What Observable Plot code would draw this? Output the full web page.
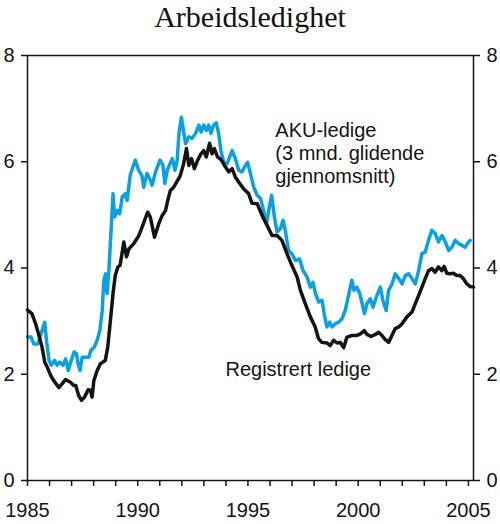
<!DOCTYPE html>
<html>
<head>
<meta charset="utf-8">
<script src="https://cdn.jsdelivr.net/npm/d3@7"></script>
<script src="https://cdn.jsdelivr.net/npm/@observablehq/plot@0.6"></script>
<style>
  body { margin: 0; background: #fff; }
  #title {
    font-family: "Liberation Serif", serif;
    font-size: 30px;
    line-height: 30px;
    height: 40px;
    padding-top: 2px;
    box-sizing: border-box;
    text-align: center;
    color: #111;
  }
  #chart svg { display: block; }
</style>
</head>
<body>
<div id="title">Arbeidsledighet</div>
<div id="chart"></div>
<script>
// AKU-ledige (3 mnd. glidende gjennomsnitt), prosent
const akuYear = [
  1985.00, 1985.16, 1985.29, 1985.47, 1985.59, 1985.71, 1985.78, 1985.86, 1985.98, 1986.08,
  1986.23, 1986.34, 1986.46, 1986.61, 1986.73, 1986.85, 1986.96, 1987.11, 1987.22, 1987.29,
  1987.38, 1987.48, 1987.63, 1987.78, 1987.88, 1988.03, 1988.16, 1988.28, 1988.39, 1988.46,
  1988.54, 1988.61, 1988.69, 1988.79, 1988.88, 1988.95, 1989.07, 1989.18, 1989.30, 1989.45,
  1989.52, 1989.66, 1989.89, 1990.04, 1990.19, 1990.27, 1990.42, 1990.54, 1990.65, 1990.81,
  1991.01, 1991.14, 1991.23, 1991.34, 1991.46, 1991.57, 1991.69, 1991.79, 1991.87, 1991.98,
  1992.07, 1992.17, 1992.32, 1992.47, 1992.62, 1992.77, 1992.87, 1992.99, 1993.11, 1993.22,
  1993.32, 1993.44, 1993.56, 1993.67, 1993.77, 1993.90, 1994.05, 1994.17, 1994.28, 1994.43,
  1994.58, 1994.73, 1994.88, 1994.98, 1995.11, 1995.26, 1995.42, 1995.57, 1995.71, 1995.84,
  1995.97, 1996.07, 1996.20, 1996.32, 1996.47, 1996.59, 1996.69, 1996.84, 1996.99, 1997.15,
  1997.34, 1997.50, 1997.68, 1997.83, 1997.95, 1998.06, 1998.21, 1998.36, 1998.47, 1998.58,
  1998.71, 1998.81, 1998.96, 1999.11, 1999.26, 1999.41, 1999.56, 1999.71, 1999.81, 1999.94,
  2000.07, 2000.18, 2000.28, 2000.40, 2000.55, 2000.67, 2000.82, 2001.00, 2001.12, 2001.27,
  2001.38, 2001.53, 2001.68, 2001.84, 2001.99, 2002.14, 2002.29, 2002.44, 2002.59, 2002.74,
  2002.89, 2003.04, 2003.19, 2003.34, 2003.49, 2003.64, 2003.80, 2003.95, 2004.10, 2004.25,
  2004.40, 2004.55, 2004.70, 2004.85, 2004.95, 2005.08
]
const akuValue = [
  2.70, 2.70, 2.57, 2.57, 2.73, 2.89, 2.98, 2.64, 2.26, 2.17,
  2.26, 2.17, 2.23, 2.17, 2.29, 2.07, 2.23, 2.42, 2.39, 2.20,
  2.07, 2.32, 2.32, 2.32, 2.45, 2.51, 2.64, 2.82, 3.20, 3.77,
  3.89, 3.52, 3.95, 4.71, 5.40, 4.96, 5.08, 5.02, 5.34, 5.40,
  5.27, 5.75, 6.03, 5.84, 5.74, 5.52, 5.78, 5.68, 5.56, 5.81,
  6.03, 5.94, 5.59, 5.84, 5.96, 6.06, 5.84, 6.03, 6.53, 6.84,
  6.59, 6.34, 6.47, 6.44, 6.53, 6.69, 6.56, 6.69, 6.59, 6.69,
  6.53, 6.69, 6.73, 6.53, 6.21, 5.99, 5.96, 6.09, 6.21, 6.06,
  5.84, 5.81, 5.93, 5.99, 5.78, 5.52, 5.37, 5.31, 5.08, 4.83,
  5.15, 5.37, 4.96, 4.68, 4.74, 4.90, 4.71, 4.33, 4.27, 4.14,
  4.17, 3.95, 3.83, 3.64, 3.73, 3.52, 3.36, 3.39, 3.11, 2.89,
  2.98, 2.89, 2.95, 2.98, 3.04, 3.20, 3.48, 3.77, 3.58, 3.64,
  3.52, 3.33, 3.14, 3.33, 3.42, 3.26, 3.45, 3.64, 3.39, 3.20,
  3.58, 3.70, 3.89, 3.80, 3.70, 3.86, 3.89, 3.80, 3.70, 3.95,
  4.27, 4.30, 4.52, 4.71, 4.65, 4.49, 4.61, 4.49, 4.33, 4.39,
  4.52, 4.46, 4.43, 4.39, 4.46, 4.52
]

// Registrert ledige, prosent
const regYear = [
  1985.00, 1985.20, 1985.36, 1985.50, 1985.66, 1985.78, 1985.90, 1986.05, 1986.19, 1986.42,
  1986.57, 1986.72, 1986.95, 1987.10, 1987.19, 1987.32, 1987.45, 1987.59, 1987.75, 1987.85,
  1987.93, 1988.01, 1988.16, 1988.31, 1988.53, 1988.64, 1988.76, 1988.88, 1988.98, 1989.10,
  1989.20, 1989.37, 1989.49, 1989.60, 1989.82, 1990.04, 1990.27, 1990.45, 1990.57, 1990.76,
  1990.95, 1991.11, 1991.26, 1991.36, 1991.48, 1991.63, 1991.81, 1991.93, 1992.08, 1992.21,
  1992.32, 1992.44, 1992.57, 1992.72, 1992.87, 1992.99, 1993.11, 1993.26, 1993.37, 1993.47,
  1993.62, 1993.78, 1993.98, 1994.13, 1994.28, 1994.43, 1994.58, 1994.80, 1995.03, 1995.18,
  1995.42, 1995.64, 1995.87, 1996.09, 1996.32, 1996.54, 1996.77, 1996.99, 1997.23, 1997.38,
  1997.60, 1997.83, 1998.05, 1998.20, 1998.35, 1998.58, 1998.73, 1998.89, 1999.04, 1999.19,
  1999.34, 1999.49, 1999.71, 1999.94, 2000.10, 2000.28, 2000.40, 2000.58, 2000.78, 2000.93,
  2001.08, 2001.23, 2001.38, 2001.53, 2001.68, 2001.84, 2001.99, 2002.21, 2002.44, 2002.59,
  2002.74, 2002.89, 2003.04, 2003.19, 2003.34, 2003.49, 2003.64, 2003.79, 2003.90, 2004.02,
  2004.17, 2004.32, 2004.47, 2004.62, 2004.77, 2004.93, 2005.08, 2005.23
]
const regValue = [
  3.21, 3.14, 2.96, 2.76, 2.51, 2.23, 2.13, 1.98, 1.88, 1.75,
  1.82, 1.90, 1.85, 1.79, 1.79, 1.60, 1.51, 1.57, 1.71, 1.70,
  1.57, 1.88, 2.07, 2.20, 2.26, 2.51, 3.01, 3.52, 3.86, 4.02,
  4.05, 4.49, 4.21, 4.36, 4.46, 4.60, 4.85, 5.05, 4.96, 4.58,
  4.83, 4.99, 5.08, 5.27, 5.46, 5.52, 5.65, 5.74, 5.96, 6.25,
  5.93, 6.06, 5.87, 6.03, 6.15, 6.21, 6.09, 6.35, 6.15, 6.25,
  6.09, 6.04, 5.90, 5.81, 5.87, 5.71, 5.62, 5.49, 5.40, 5.22,
  5.21, 4.99, 4.80, 4.61, 4.61, 4.52, 4.27, 4.05, 3.83, 3.58,
  3.33, 3.08, 2.89, 2.67, 2.60, 2.59, 2.54, 2.64, 2.59, 2.60,
  2.50, 2.70, 2.73, 2.73, 2.76, 2.82, 2.75, 2.71, 2.75, 2.79,
  2.73, 2.65, 2.60, 2.73, 2.86, 2.89, 2.95, 3.08, 3.17, 3.33,
  3.48, 3.64, 3.80, 3.95, 3.99, 3.92, 4.02, 3.95, 4.03, 3.90,
  3.89, 3.90, 3.86, 3.86, 3.80, 3.70, 3.65, 3.64
]

const yTicks = [0, 2, 4, 6, 8]
const xTicks = d3.range(1985, 2006)
const xLabels = [1985, 1990, 1995, 2000, 2005]

const aku = akuYear.map((x, i) => ({x, y: akuValue[i]}))
const reg = regYear.map((x, i) => ({x, y: regValue[i]}))

const ink = "#141414"
const blue = "#0aa0e2"

let chart = Plot.plot({
  width: 500,
  height: 484,
  marginLeft: 27,
  marginRight: 27,
  marginTop: 15,
  marginBottom: 44,
  style: {fontFamily: "Liberation Sans, Arial, sans-serif", fontSize: "20px", color: ink, background: "#fff", overflow: "visible"},
  x: {domain: [1985, 2005.23]},
  y: {domain: [0, 8]},
  marks: [
    Plot.axisY({anchor: "left", ticks: yTicks, tickSize: 6, tickPadding: 7, strokeWidth: 1.5, fontSize: 20, label: null}),
    Plot.axisY({anchor: "right", ticks: yTicks, tickSize: 6, tickPadding: 7, strokeWidth: 1.5, fontSize: 20, label: null}),
    Plot.axisX({ticks: xTicks, tickSize: 6, tickPadding: 16, strokeWidth: 1.5, fontSize: 20, label: null,
      tickFormat: d => xLabels.includes(d) ? String(d) : ""}),
    Plot.line(aku, {x: 'x', y: 'y', stroke: blue, strokeWidth: 3.5, strokeLinejoin: "round"}),
    Plot.line(reg, {x: 'x', y: 'y', stroke: ink, strokeWidth: 3.5, strokeLinejoin: "round"}),
    Plot.frame({stroke: ink, strokeWidth: 1.5}),
    Plot.text(["AKU-ledige\n(3 mnd. glidende\ngjennomsnitt)"], {
      x: 1996.24, y: 6.78, text: d => d, textAnchor: "start", lineAnchor: "top",
      lineHeight: 1.15, fontSize: 20, fill: ink
    }),
    Plot.text(["Registrert ledige"], {
      x: 1993.98, y: 2.23, text: d => d, textAnchor: "start", lineAnchor: "top",
      fontSize: 20, fill: ink
    })
  ]
})

d3.select('#chart').append(() => chart)
</script>
</body>
</html>
